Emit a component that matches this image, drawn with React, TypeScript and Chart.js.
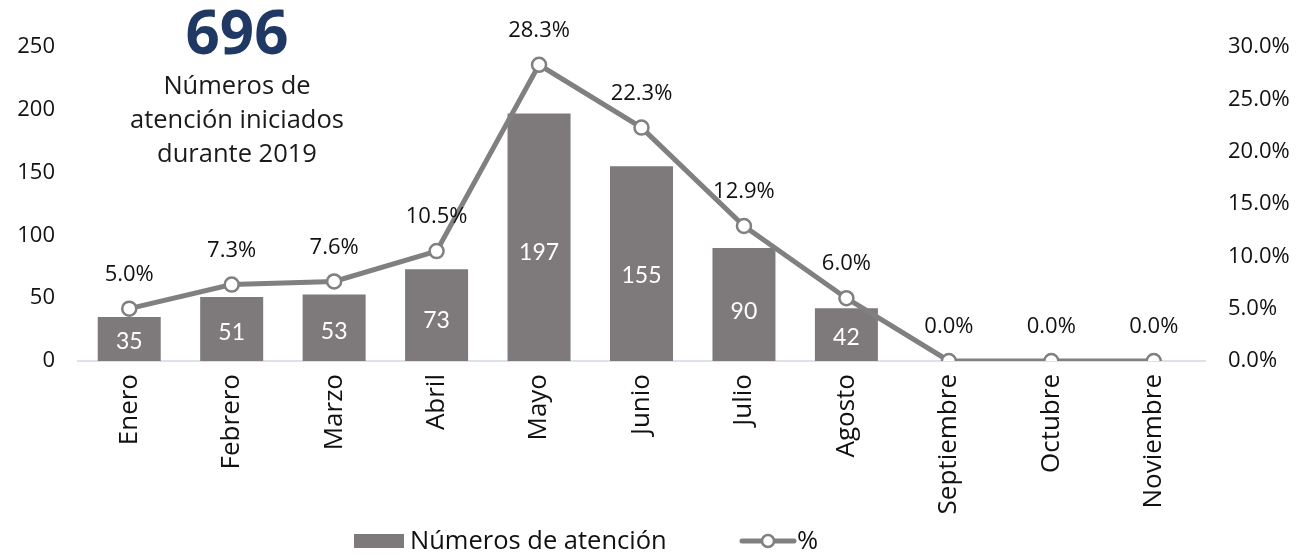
import React, { useEffect, useRef } from "react";
import { Chart, registerables } from "chart.js";

Chart.register(...registerables);

const months = ["Enero", "Febrero", "Marzo", "Abril", "Mayo", "Junio", "Julio", "Agosto", "Septiembre", "Octubre", "Noviembre"];
const attentionCounts = [35, 51, 53, 73, 197, 155, 90, 42, 0, 0, 0];
const percentShares = [5.0, 7.3, 7.6, 10.5, 28.3, 22.3, 12.9, 6.0, 0.0, 0.0, 0.0];
const leftAxisMax = 250;
const leftAxisStep = 50;
const rightAxisMax = 30;
const rightAxisStep = 5;
const totalLabel = "696";
const subtitleLines = ["Números de", "atención iniciados", "durante 2019"];
const barSeriesName = "Números de atención";
const lineSeriesName = "%";

const BAR_COLOR = "#7e7a7b";
const LINE_COLOR = "#808080";
const FONT = "'Open Sans', 'Noto Sans', sans-serif";
const BAR_LABEL_FONT = "Lato, 'Open Sans', sans-serif";

export default function App() {
  const canvasRef = useRef<HTMLCanvasElement | null>(null);

  useEffect(() => {
    document.body.style.margin = "0";
    const canvas = canvasRef.current;
    if (!canvas) return;

    const labelsPlugin = {
      id: "valueLabels",
      afterDatasetsDraw(chart: any) {
        const ctx = chart.ctx;
        ctx.save();
        // bar labels
        const barMeta = chart.getDatasetMeta(0);
        ctx.fillStyle = "#ffffff";
        ctx.font = `23px ${BAR_LABEL_FONT}`;
        ctx.textAlign = "center";
        ctx.textBaseline = "middle";
        barMeta.data.forEach((el: any, i: number) => {
          const v = attentionCounts[i];
          if (!v) return;
          const p = el.getProps(["x", "y", "base"], true);
          const ly = p.y + 0.56 * (p.base - p.y);
          ctx.fillText(String(v), p.x, ly);
        });
        // line labels
        const lineMeta = chart.getDatasetMeta(1);
        ctx.fillStyle = "#111111";
        ctx.font = `22px ${FONT}`;
        lineMeta.data.forEach((el: any, i: number) => {
          const v = percentShares[i];
          const p = el.getProps(["x", "y"], true);
          ctx.fillText(v.toFixed(1) + "%", p.x, p.y - 34);
        });
        ctx.restore();
      },
      afterDraw(chart: any) {
        const ctx = chart.ctx;
        ctx.save();
        const y = 541;
        // bar legend
        ctx.fillStyle = BAR_COLOR;
        ctx.fillRect(354, y - 7, 50, 14);
        ctx.fillStyle = "#111111";
        ctx.font = `25.5px ${FONT}`;
        ctx.textAlign = "left";
        ctx.textBaseline = "middle";
        ctx.fillText(barSeriesName, 410, y + 1);
        // line legend
        ctx.strokeStyle = LINE_COLOR;
        ctx.lineWidth = 5;
        ctx.lineCap = "round";
        ctx.beginPath();
        ctx.moveTo(742, y);
        ctx.lineTo(794, y);
        ctx.stroke();
        ctx.beginPath();
        ctx.arc(768, y, 6, 0, Math.PI * 2);
        ctx.fillStyle = "#ffffff";
        ctx.fill();
        ctx.lineWidth = 2.5;
        ctx.stroke();
        ctx.fillStyle = "#111111";
        ctx.fillText(lineSeriesName, 797, y + 1);
        ctx.restore();
      },
    };

    const chart = new Chart(canvas, {
      data: {
        labels: months,
        datasets: [
          {
            type: "bar",
            label: barSeriesName,
            data: attentionCounts,
            backgroundColor: BAR_COLOR,
            yAxisID: "y",
            order: 2,
            categoryPercentage: 1,
            barPercentage: 0.615,
          },
          {
            type: "line",
            label: lineSeriesName,
            data: percentShares,
            borderColor: LINE_COLOR,
            borderWidth: 5,
            pointRadius: 7,
            pointBorderWidth: 2.5,
            pointBackgroundColor: "#ffffff",
            pointBorderColor: LINE_COLOR,
            yAxisID: "y1",
            order: 1,
            tension: 0,
          },
        ],
      } as any,
      options: {
        animation: false,
        responsive: true,
        maintainAspectRatio: false,
        layout: { padding: { top: 47, bottom: 0, left: 0, right: 0 } },
        plugins: {
          legend: { display: false },
          tooltip: { enabled: false },
        },
        scales: {
          x: {
            offset: true,
            grid: { display: false, drawTicks: false },
            border: { display: true, color: "#dde2ea", width: 2 },
            ticks: {
              minRotation: 90,
              maxRotation: 90,
              padding: 13,
              color: "#111111",
              font: { family: FONT, size: 26 },
            },
            afterFit(scale: any) {
              scale.height = 194;
            },
          },
          y: {
            position: "left",
            min: 0,
            max: leftAxisMax,
            grid: { display: false, drawTicks: false },
            border: { display: false },
            ticks: {
              stepSize: leftAxisStep,
              padding: 23,
              color: "#111111",
              font: { family: FONT, size: 22 },
            },
            afterFit(scale: any) {
              scale.width = 78;
            },
          },
          y1: {
            position: "right",
            min: 0,
            max: rightAxisMax,
            grid: { display: false, drawTicks: false },
            border: { display: false },
            ticks: {
              stepSize: rightAxisStep,
              padding: 23,
              color: "#111111",
              font: { family: FONT, size: 22 },
              callback: (v: any) => Number(v).toFixed(1) + "%",
            },
            afterFit(scale: any) {
              scale.width = 107;
            },
          },
        },
      } as any,
      plugins: [labelsPlugin],
    });

    return () => chart.destroy();
  }, []);

  return (
    <div style={{ position: "relative", width: 1312, height: 555 }}>
      <canvas ref={canvasRef} />
      <div
        style={{
          position: "absolute",
          left: 97,
          top: 0,
          width: 280,
          textAlign: "center",
          fontFamily: FONT,
          pointerEvents: "none",
        }}
      >
        <div style={{ fontSize: 60, fontWeight: 700, color: "#203864", lineHeight: "62px" }}>{totalLabel}</div>
        <div style={{ fontSize: 25.5, color: "#1a1a1a", lineHeight: "34px", marginTop: 5 }}>
          {subtitleLines.map((l) => (
            <div key={l}>{l}</div>
          ))}
        </div>
      </div>
    </div>
  );
}
